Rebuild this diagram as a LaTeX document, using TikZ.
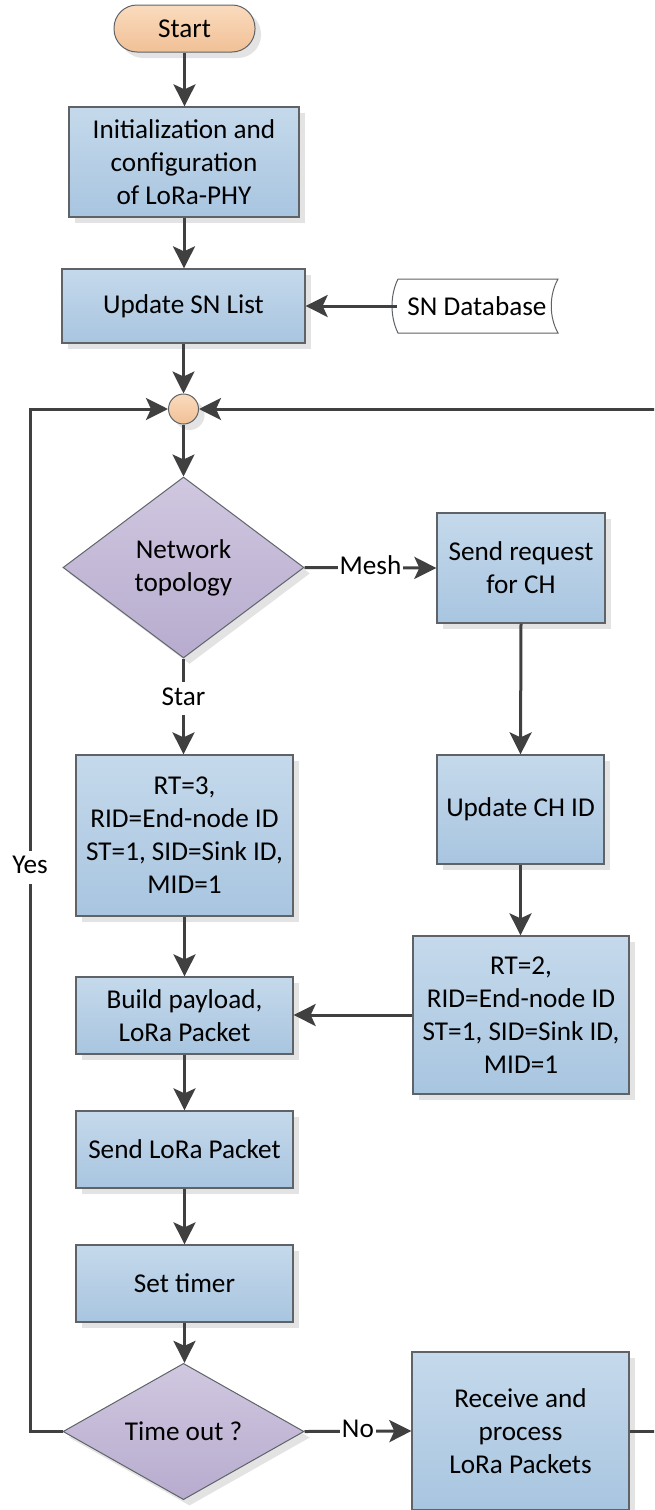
\documentclass[tikz,border=0pt]{standalone}
\usepackage{fontspec}
\setmainfont{Carlito}
\usetikzlibrary{shapes.geometric,shadows,arrows.meta}
\definecolor{boxtop}{HTML}{C5D9EB}
\definecolor{boxbot}{HTML}{A8C5E0}
\definecolor{dtop}{HTML}{D0C7E0}
\definecolor{dbot}{HTML}{B7ACCE}
\definecolor{ptop}{HTML}{FADBBE}
\definecolor{pbot}{HTML}{F1C096}
\definecolor{bordercol}{HTML}{5F6368}
\definecolor{linecol}{HTML}{404040}
\definecolor{shad}{HTML}{E3E3E3}
\begin{document}
\begin{tikzpicture}[x=1pt,y=-1pt,
  font=\fontsize{27.2pt}{33pt}\selectfont,
  shd/.style={drop shadow={shadow xshift=6pt, shadow yshift=-6pt, fill=shad, opacity=1}},
  proc/.style={draw=bordercol, line width=1.3pt, top color=boxtop, bottom color=boxbot,
    align=center, inner sep=0pt, shd},
  dec/.style={diamond, draw=bordercol, line width=1pt, top color=dtop, bottom color=dbot,
    align=center, inner sep=0pt, shd},
  term/.style={draw=bordercol, line width=1pt, top color=ptop, bottom color=pbot,
    rounded corners=23pt, inner sep=0pt, shd},
  joint/.style={circle, draw=bordercol, line width=1pt, top color=ptop, bottom color=pbot,
    inner sep=0pt, minimum size=30pt, shd},
  conn/.style={draw=linecol, line width=3pt, -{Stealth[length=22pt,width=22pt,inset=5pt]}},
  lbl/.style={fill=white, inner xsep=2pt, inner ysep=0pt, execute at begin node=\strut}
]
\useasboundingbox (0,0) rectangle (654,1510);
\clip (0,0) rectangle (654,1510);

% nodes
\node[term, minimum width=141pt, minimum height=47pt] (start) at (184.5,28.5) {Start};
\node[proc, minimum width=230pt, minimum height=110pt] (init) at (184,162)
  {Initialization and\\configuration\\of LoRa-PHY};
\node[proc, minimum width=243pt, minimum height=74pt] (upd) at (183.5,306) {Update SN List};

\path[draw=bordercol, line width=1pt, fill=white]
  (398,279) -- (558,279) .. controls (549,295) and (549,317) .. (558,333)
  -- (398,333) .. controls (390,317) and (390,295) .. (398,279);
\node[minimum width=160pt, minimum height=54pt, inner sep=0pt] (db) at (477,306) {SN Database};

\node[joint] (join) at (183.5,409) {};
\node[dec, minimum width=241pt, minimum height=181pt] (topo) at (183.5,567.5) {Network\\topology};
\node[proc, minimum width=168pt, minimum height=110pt] (req) at (521,568) {Send request\\for CH};
\node[proc, minimum width=167pt, minimum height=109pt] (chid) at (520.5,809.5) {Update CH ID};
\node[proc, minimum width=216pt, minimum height=158pt] (rt2) at (521,1015)
  {RT=2,\\RID=End-node ID\\ST=1, SID=Sink ID,\\MID=1};
\node[proc, minimum width=217pt, minimum height=161pt] (rt3) at (184.5,835.5)
  {RT=3,\\RID=End-node ID\\ST=1, SID=Sink ID,\\MID=1};
\node[proc, minimum width=217pt, minimum height=77pt] (build) at (184.5,1015.5)
  {Build payload,\\LoRa Packet};
\node[proc, minimum width=217pt, minimum height=77pt] (send) at (184.5,1149.5) {Send LoRa Packet};
\node[proc, minimum width=217pt, minimum height=77pt] (timer) at (184.5,1283.5) {Set timer};
\node[dec, minimum width=241pt, minimum height=113pt] (tout) at (183.5,1431.5) {Time out ?};
\node[proc, minimum width=217pt, minimum height=158pt] (recv) at (520.5,1431)
  {Receive and\\process\\LoRa Packets};

% connectors
\draw[conn] (start.south) -- (start.south |- init.north);
\draw[conn] (init.south) -- (init.south |- upd.north);
\draw[conn] (db.west) -- (upd.east);
\draw[conn] (upd.south) -- (join.north);
\draw[conn] (join.south) -- (topo.north);
\draw[conn] (topo.east) -- node[lbl]{Mesh} (req.west);
\draw[conn] (topo.south) -- node[lbl, pos=0.42]{Star} (topo.south |- rt3.north);
\draw[conn] (req.south) -- (chid.north);
\draw[conn] (chid.south) -- (chid.south |- rt2.north);
\draw[conn] (rt2.west) -- (rt2.west -| build.east);
\draw[conn] (rt3.south) -- (build.north);
\draw[conn] (build.south) -- (send.north);
\draw[conn] (send.south) -- (timer.north);
\draw[conn] (timer.south) -- (timer.south |- tout.north);
\draw[conn] (tout.east) -- node[lbl]{No} (recv.west);
\coordinate (yb) at (30,1431.5);
\coordinate (yt) at (30,409);
\draw[conn] (tout.west) -- (yb) -- node[lbl, pos=0.552]{Yes} (yt) -- (join.west);
\coordinate (rb) at (680,1431);
\coordinate (rtop) at (680,409);
\draw[conn] (recv.east) -- (rb) -- (rtop) -- (join.east);
\end{tikzpicture}
\end{document}
